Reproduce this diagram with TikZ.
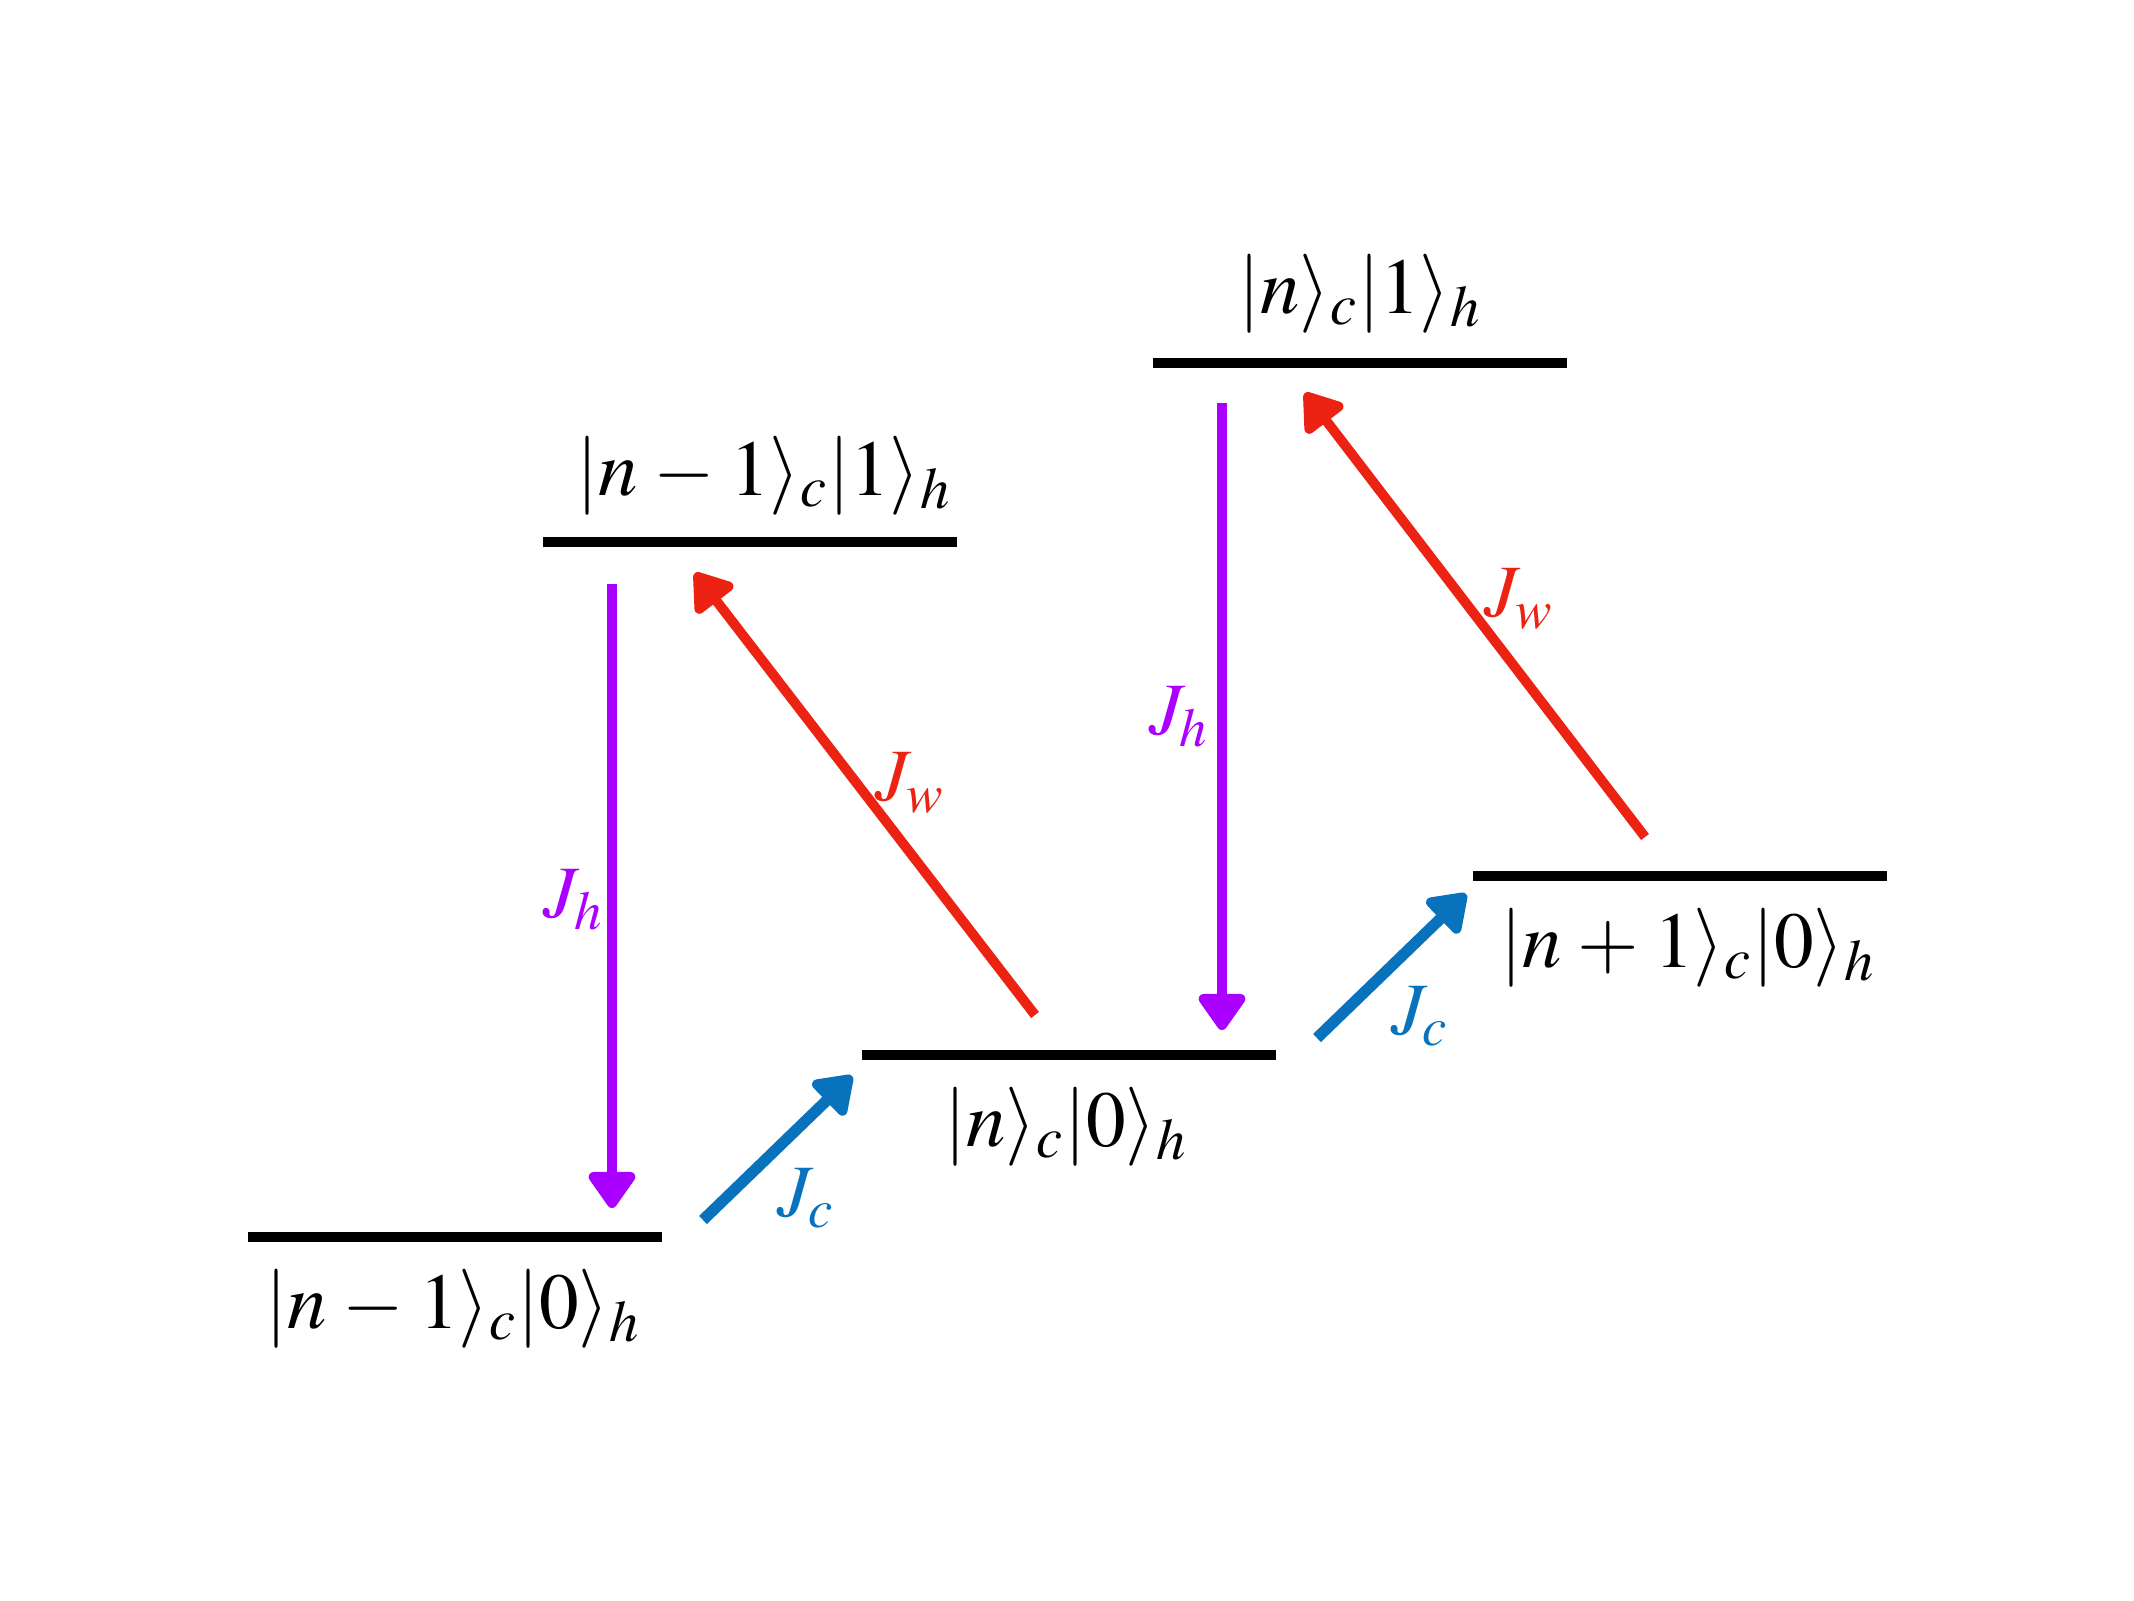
\documentclass[tikz,border=0pt]{standalone}
\usepackage{mathptmx}
\usetikzlibrary{arrows.meta}
\definecolor{jh}{RGB}{170,0,255}
\definecolor{jw}{RGB}{236,34,18}
\definecolor{jc}{RGB}{8,114,188}
\tikzset{
 level/.style={line width=2.6pt, black},
 state/.style={font=\fontsize{22.5}{27}\selectfont, inner sep=0pt, anchor=base},
 rate/.style={font=\fontsize{21}{25}\selectfont, inner sep=0pt},
 hop/.style={line width=2.8pt, -{Triangle[width=0.53cm,length=0.4cm,round]}},
}
\begin{document}
\begin{tikzpicture}[x=0.01cm,y=-0.01cm]
\useasboundingbox (0,0) rectangle (2134,1600);
% levels
\coordinate (a1) at (248,1237); \coordinate (a2) at (662,1237);
\coordinate (b1) at (862,1055); \coordinate (b2) at (1276,1055);
\coordinate (c1) at (1473,876); \coordinate (c2) at (1887,876);
\coordinate (d1) at (543,542); \coordinate (d2) at (957,542);
\coordinate (e1) at (1153,363); \coordinate (e2) at (1567,363);
\draw[level] (a1) -- (a2);
\draw[level] (b1) -- (b2);
\draw[level] (c1) -- (c2);
\draw[level] (d1) -- (d2);
\draw[level] (e1) -- (e2);
% state labels
\node[state] (la) at (453,1328) {$|n\mskip1mu-\mskip1mu1\rangle_c|0\rangle_h$};
\node[state] (lb) at (1066,1146) {$|n\rangle_c|0\rangle_h$};
\node[state] (lc) at (1688,967) {$|n\mskip1mu+\mskip1mu1\rangle_c|0\rangle_h$};
\node[state] (ld) at (764,495) {$|n\mskip1mu-\mskip1mu1\rangle_c|1\rangle_h$};
\node[state] (le) at (1360,313) {$|n\rangle_c|1\rangle_h$};
% arrow ends
\coordinate (h1s) at (612,584); \coordinate (h1e) at (612,1208);
\coordinate (h2s) at (1222,403); \coordinate (h2e) at (1222,1030);
\coordinate (w1s) at (1035,1015); \coordinate (w1e) at (695,573);
\coordinate (w2s) at (1645,837); \coordinate (w2e) at (1305,393);
\coordinate (c1s) at (703,1220); \coordinate (c1e) at (852,1076);
\coordinate (c2s) at (1317,1038); \coordinate (c2e) at (1466,894);
\draw[hop, jh] (h1s) -- (h1e);
\draw[hop, jh] (h2s) -- (h2e);
\draw[hop, jw] (w1s) -- (w1e);
\draw[hop, jw] (w2s) -- (w2e);
\draw[hop, jc, line width=3.2pt] (c1s) -- (c1e);
\draw[hop, jc, line width=3.2pt] (c2s) -- (c2e);
% rate labels
\node[rate, text=jh] (rh1) at (574,900) {$J_h$};
\node[rate, text=jh] (rh2) at (1179,717) {$J_h$};
\node[rate, text=jw] (rw1) at (910,783) {$J_w$};
\node[rate, text=jw] (rw2) at (1519,599) {$J_w$};
\node[rate, text=jc] (rc1) at (806,1198) {$J_c$};
\node[rate, text=jc] (rc2) at (1420,1016) {$J_c$};
\end{tikzpicture}
\end{document}
